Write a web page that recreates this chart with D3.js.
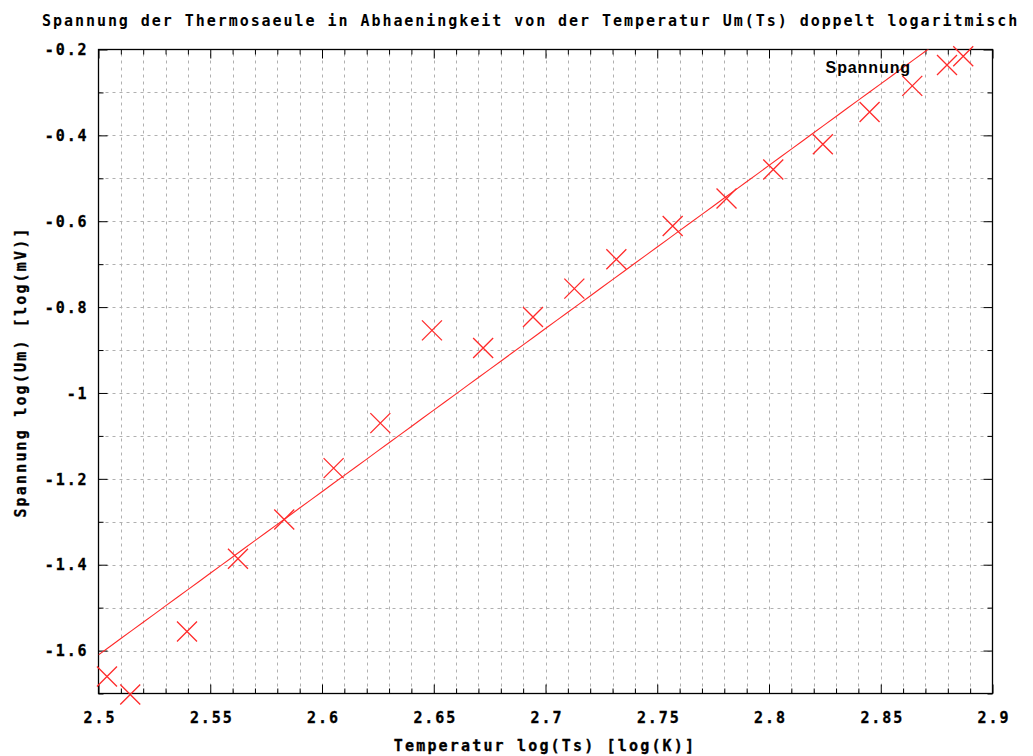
<!DOCTYPE html>
<html>
<head>
<meta charset="utf-8">
<script src="https://cdn.jsdelivr.net/npm/d3@7"></script>
<style>
  html, body { margin: 0; padding: 0; background: #fff; overflow: hidden; }
  svg { display: block; }
  .mono { font-family: "DejaVu Sans Mono", "Liberation Mono", monospace; }
</style>
</head>
<body>
<svg id="chart" width="1033" height="756"></svg>
<script>
// ---- data ----
const tempLog = [2.5038, 2.5142, 2.5396, 2.5624, 2.5831, 2.6052, 2.6261, 2.6492, 2.6721, 2.6944,
                 2.7129, 2.7317, 2.7569, 2.7810, 2.8019, 2.8241, 2.8450, 2.8641, 2.8869];
const voltLog = [-1.6605, -1.7025, -1.5556, -1.3862, -1.2946, -1.1751, -1.0702, -0.8542, -0.8954, -0.8232,
                 -0.7570, -0.6887, -0.6111, -0.5472, -0.4797, -0.4207, -0.3454, -0.2848, -0.2156];
// fitted straight line  y = fitValueAt25 + fitSlope * (x - 2.5)
const fitValueAt25 = -1.61;
const fitSlope = 3.80;
const xDomain = [2.5, 2.9];
const yDomain = [-1.7, -0.2];
const xMajorTicks = [2.5, 2.55, 2.6, 2.65, 2.7, 2.75, 2.8, 2.85, 2.9];
const xTickLabels = ["2.5", "2.55", "2.6", "2.65", "2.7", "2.75", "2.8", "2.85", "2.9"];
const yMajorTicks = [-1.6, -1.4, -1.2, -1.0, -0.8, -0.6, -0.4, -0.2];
const yTickLabels = ["-1.6", "-1.4", "-1.2", "-1", "-0.8", "-0.6", "-0.4", "-0.2"];
const titleText = "Spannung der Thermosaeule in Abhaeningkeit von der Temperatur Um(Ts) doppelt logaritmisch";
const xLabelText = "Temperatur log(Ts) [log(K)]";
const yLabelText = "Spannung log(Um) [log(mV)]";
const legendText = "Spannung";

// ---- layout ----
const L = 98.5, R = 992.5, T = 49.5, B = 693.5;
const red = "#ff2a2a";
const svg = d3.select("#chart");

const x = d3.scaleLinear().domain(xDomain).range([L, R]);
const y = d3.scaleLinear().domain(yDomain).range([B, T]);

const xMinor = d3.range(0, 41).map(i => +(xDomain[0] + i * 0.01).toFixed(2));
const yMinor = d3.range(0, 16).map(i => +(yDomain[0] + i * 0.1).toFixed(1));

// grid
const grid = svg.append("g").attr("stroke", "#b0b0b0").attr("stroke-width", 1)
  .attr("stroke-dasharray", "3,4").attr("fill", "none");
xMinor.filter(v => v > xDomain[0] + 1e-9 && v < xDomain[1] - 1e-9).forEach(v => {
  grid.append("line").attr("x1", Math.round(x(v)) + 0.5).attr("x2", Math.round(x(v)) + 0.5)
    .attr("y1", B).attr("y2", T);
});
yMinor.filter(v => v > yDomain[0] + 1e-9 && v < yDomain[1] - 1e-9).forEach(v => {
  grid.append("line").attr("y1", Math.round(y(v)) + 0.5).attr("y2", Math.round(y(v)) + 0.5)
    .attr("x1", L).attr("x2", R);
});

// axes (ticks pointing inward, mirrored on all four sides)
function styleAxis(g) {
  g.select(".domain").remove();
  g.selectAll(".tick line").attr("stroke", "#000").attr("stroke-width", 1);
}
const xMinorOnly = xMinor.filter(v => !xMajorTicks.some(m => Math.abs(m - v) < 1e-9));
const yMinorOnly = yMinor.filter(v => !yMajorTicks.some(m => Math.abs(m - v) < 1e-9));

svg.append("g").attr("transform", `translate(0,${B})`)
  .call(d3.axisBottom(x).tickValues(xMinorOnly).tickSize(-5).tickFormat("")).call(styleAxis);
svg.append("g").attr("transform", `translate(0,${T})`)
  .call(d3.axisTop(x).tickValues(xMinorOnly).tickSize(-5).tickFormat("")).call(styleAxis);
svg.append("g").attr("transform", `translate(${L},0)`)
  .call(d3.axisLeft(y).tickValues(yMinorOnly).tickSize(-5).tickFormat("")).call(styleAxis);
svg.append("g").attr("transform", `translate(${R},0)`)
  .call(d3.axisRight(y).tickValues(yMinorOnly).tickSize(-5).tickFormat("")).call(styleAxis);

const xb = svg.append("g").attr("transform", `translate(0,${B})`)
  .call(d3.axisBottom(x).tickValues(xMajorTicks).tickSize(-9).tickPadding(20)
    .tickFormat((d, i) => xTickLabels[i])).call(styleAxis);
xb.selectAll("text").attr("class", "mono").attr("font-size", 15).attr("font-weight", "bold")
  .attr("fill", "#000").attr("stroke", "#000").attr("stroke-width", 0.3)
  .attr("dy", null).attr("y", 29).attr("letter-spacing", 1.9).attr("dx", 1);
svg.append("g").attr("transform", `translate(0,${T})`)
  .call(d3.axisTop(x).tickValues(xMajorTicks).tickSize(-9).tickFormat("")).call(styleAxis);

const yl = svg.append("g").attr("transform", `translate(${L},0)`)
  .call(d3.axisLeft(y).tickValues(yMajorTicks).tickSize(-9).tickPadding(10)
    .tickFormat((d, i) => yTickLabels[i])).call(styleAxis);
yl.selectAll("text").attr("class", "mono").attr("font-size", 15).attr("font-weight", "bold")
  .attr("fill", "#000").attr("stroke", "#000").attr("stroke-width", 0.3)
  .attr("letter-spacing", 1.9).attr("dy", "0.35em");
svg.append("g").attr("transform", `translate(${R},0)`)
  .call(d3.axisRight(y).tickValues(yMajorTicks).tickSize(-9).tickFormat("")).call(styleAxis);

// border
svg.append("rect").attr("x", L).attr("y", T).attr("width", R - L).attr("height", B - T)
  .attr("fill", "none").attr("stroke", "#000").attr("stroke-width", 1.3);

// fitted line (clipped to plot area)
svg.append("clipPath").attr("id", "plotclip").append("rect")
  .attr("x", L).attr("y", T).attr("width", R - L).attr("height", B - T);
const fitX = d3.range(0, 81).map(i => xDomain[0] + i * (xDomain[1] - xDomain[0]) / 80);
svg.append("path").attr("clip-path", "url(#plotclip)")
  .datum(fitX)
  .attr("fill", "none").attr("stroke", red).attr("stroke-width", 1.1)
  .attr("d", d3.line().x(d => x(d)).y(d => y(fitValueAt25 + fitSlope * (d - 2.5))));

// data points as crosses
const s = 10;
const crossPath = (cx, cy) => `M${cx - s},${cy - s}L${cx + s},${cy + s}M${cx - s},${cy + s}L${cx + s},${cy - s}`;
svg.append("g").selectAll("path").data(tempLog.map((t, i) => [t, voltLog[i]])).join("path")
  .attr("d", d => crossPath(x(d[0]), y(d[1])))
  .attr("fill", "none").attr("stroke", red).attr("stroke-width", 1.3);

// legend
svg.append("text").attr("x", 911).attr("y", 73).attr("text-anchor", "end")
  .attr("font-family", "Liberation Sans, Arial, sans-serif").attr("font-weight", "bold")
  .attr("font-size", 16).attr("letter-spacing", 0.9).attr("fill", "#000").text(legendText);
svg.append("path").attr("d", crossPath(947, 65))
  .attr("fill", "none").attr("stroke", red).attr("stroke-width", 1.3);

// title
svg.append("text").attr("class", "mono").attr("x", 42).attr("y", 26)
  .attr("font-size", 15).attr("letter-spacing", 1.95).attr("fill", "#000")
  .attr("font-weight", "bold").text(titleText);

// axis labels
svg.append("text").attr("class", "mono").attr("x", 545).attr("y", 751)
  .attr("text-anchor", "middle").attr("font-size", 15).attr("font-weight", "bold")
  .attr("stroke", "#000").attr("stroke-width", 0.3)
  .attr("letter-spacing", 2.17).attr("fill", "#000").text(xLabelText);
svg.append("text").attr("class", "mono")
  .attr("transform", "translate(26,372) rotate(-90)")
  .attr("text-anchor", "middle").attr("font-size", 15).attr("font-weight", "bold")
  .attr("stroke", "#000").attr("stroke-width", 0.3)
  .attr("letter-spacing", 2.17).attr("fill", "#000").text(yLabelText);
</script>
</body>
</html>
